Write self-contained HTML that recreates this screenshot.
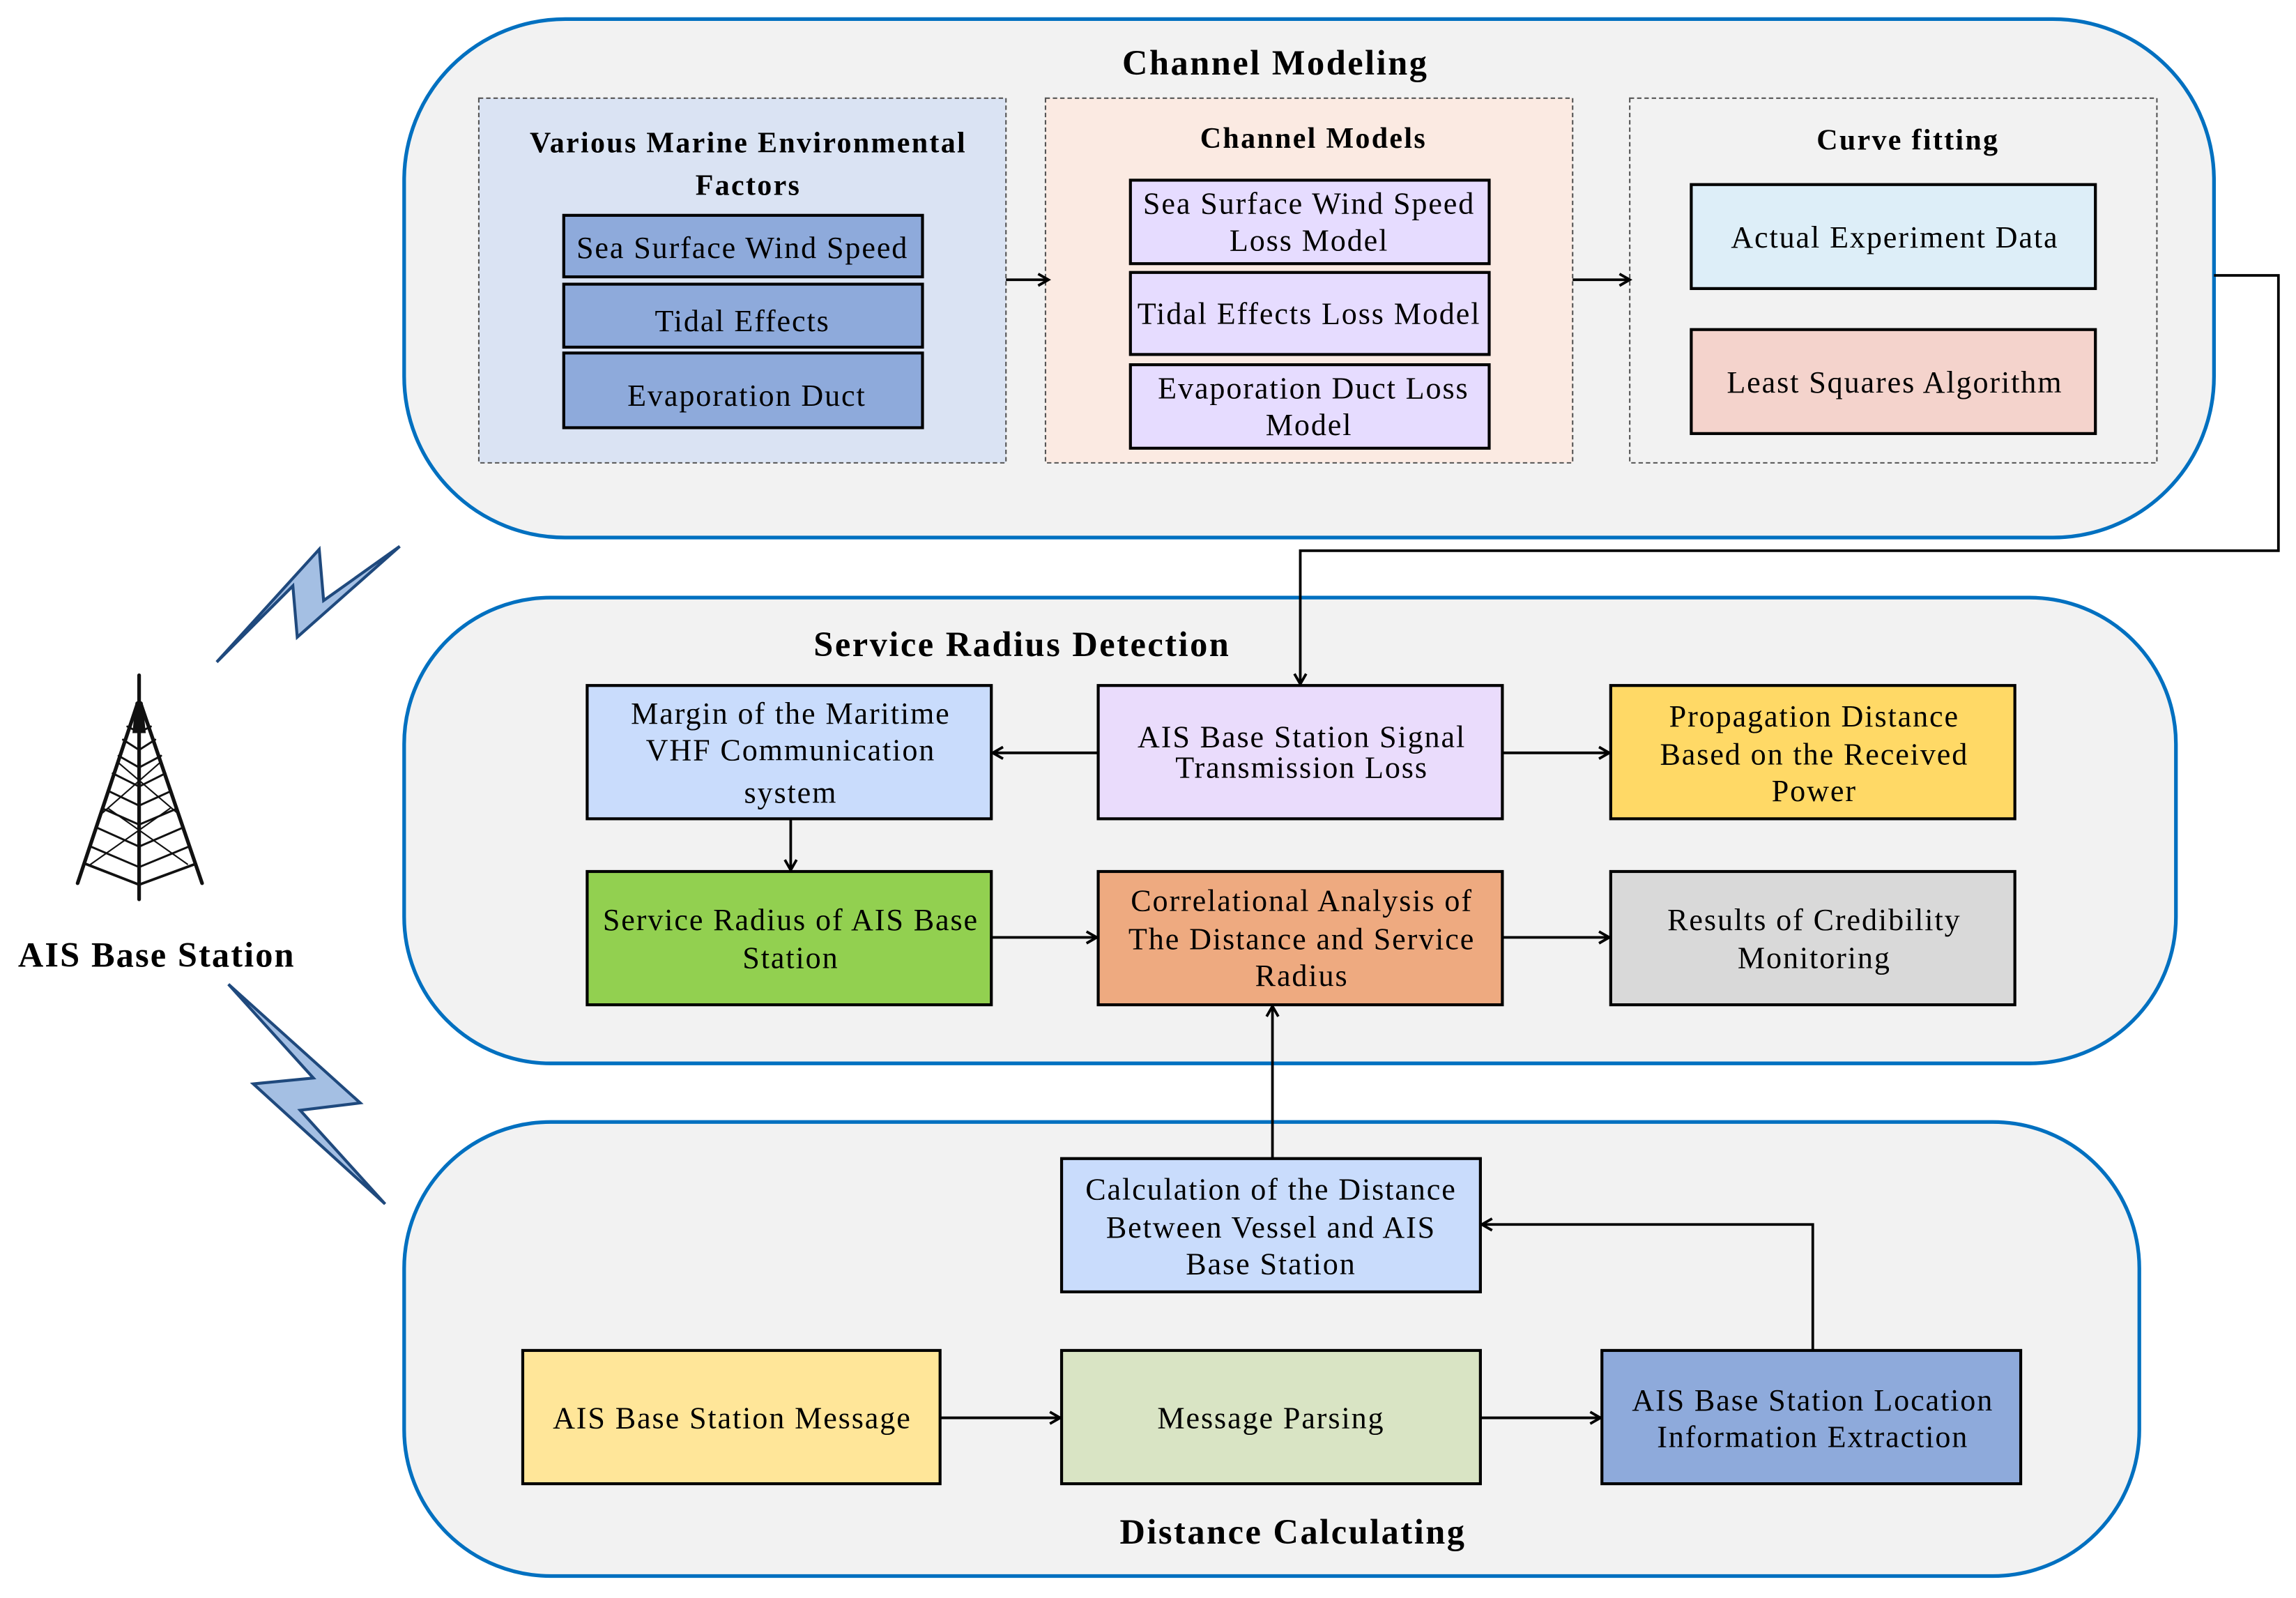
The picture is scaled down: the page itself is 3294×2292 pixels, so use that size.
<!DOCTYPE html>
<html><head><meta charset="utf-8"><style>
html,body{margin:0;padding:0;background:#fff;}
svg{display:block;}
text{font-family:"Liberation Serif",serif;fill:#000;}
.t{font-size:21px;letter-spacing:0.9px;text-anchor:middle;}
.h{font-size:24px;letter-spacing:1.2px;font-weight:bold;text-anchor:middle;}
.h2{font-size:20px;letter-spacing:1.1px;font-weight:bold;text-anchor:middle;}
.b{stroke:#000;stroke-width:2;}
.c{fill:#f2f2f2;stroke:#0070c0;stroke-width:2.5;}
.p{stroke:#555;stroke-width:1;stroke-dasharray:3,2;}
.a{stroke:#000;stroke-width:1.8;fill:none;marker-end:url(#ar);}
</style></head><body>
<svg width="3294" height="2292" viewBox="0 0 1568 1091" xmlns="http://www.w3.org/2000/svg">
<defs><marker id="ar" markerWidth="10" markerHeight="10" refX="8" refY="5" orient="auto" markerUnits="userSpaceOnUse"><path d="M1,1 L8,5 L1,9" fill="none" stroke="#000" stroke-width="1.8"/></marker></defs>

<rect class="c" x="276" y="13" width="1236" height="354" rx="110"/>
<rect class="c" x="276" y="408" width="1210" height="318" rx="100"/>
<rect class="c" x="276" y="766" width="1185" height="310" rx="100"/>

<text class="h" x="871" y="51">Channel Modeling</text>
<rect class="p" x="327" y="67" width="360" height="249" fill="#dae3f3"/>
<rect class="p" x="714" y="67" width="360" height="249" fill="#fbeae2"/>
<rect class="p" x="1113" y="67" width="360" height="249" fill="#f2f2f2"/>
<text class="h2" x="511" y="104">Various Marine Environmental</text>
<text class="h2" x="511" y="133">Factors</text>
<text class="h2" x="897" y="101">Channel Models</text>
<text class="h2" x="1303" y="102">Curve fitting</text>

<rect class="b" x="385" y="147" width="245" height="42" fill="#8eaadb"/>
<rect class="b" x="385" y="194" width="245" height="43" fill="#8eaadb"/>
<rect class="b" x="385" y="241" width="245" height="51" fill="#8eaadb"/>
<text class="t" x="507" y="176">Sea Surface Wind Speed</text>
<text class="t" x="507" y="226">Tidal Effects</text>
<text class="t" x="510" y="277">Evaporation Duct</text>

<rect class="b" x="772" y="123" width="245" height="57" fill="#e6dcff"/>
<rect class="b" x="772" y="186" width="245" height="56" fill="#e6dcff"/>
<rect class="b" x="772" y="249" width="245" height="57" fill="#e6dcff"/>
<text class="t" x="894" y="146">Sea Surface Wind Speed</text>
<text class="t" x="894" y="171">Loss Model</text>
<text class="t" x="894" y="221">Tidal Effects Loss Model</text>
<text class="t" x="897" y="272">Evaporation Duct Loss</text>
<text class="t" x="894" y="297">Model</text>

<rect class="b" x="1155" y="126" width="276" height="71" fill="#ddeef8"/>
<rect class="b" x="1155" y="225" width="276" height="71" fill="#f4d3cc"/>
<text class="t" x="1294" y="169">Actual Experiment Data</text>
<text class="t" x="1294" y="268">Least Squares Algorithm</text>

<line class="a" x1="687" y1="191" x2="716" y2="191"/>
<line class="a" x1="1074" y1="191" x2="1113" y2="191"/>
<polyline class="a" points="1512,188 1556,188 1556,376 888,376 888,467"/>

<text class="h" x="698" y="448">Service Radius Detection</text>
<rect class="b" x="401" y="468" width="276" height="91" fill="#c9dcfc"/>
<rect class="b" x="750" y="468" width="276" height="91" fill="#eadcfc"/>
<rect class="b" x="1100" y="468" width="276" height="91" fill="#ffd966"/>
<rect class="b" x="401" y="595" width="276" height="91" fill="#92d050"/>
<rect class="b" x="750" y="595" width="276" height="91" fill="#eeaa80"/>
<rect class="b" x="1100" y="595" width="276" height="91" fill="#d9d9d9"/>
<text class="t" x="540" y="494">Margin of the Maritime</text>
<text class="t" x="540" y="519">VHF Communication</text>
<text class="t" x="540" y="548">system</text>
<text class="t" x="889" y="510">AIS Base Station Signal</text>
<text class="t" x="889" y="531">Transmission Loss</text>
<text class="t" x="1239" y="496">Propagation Distance</text>
<text class="t" x="1239" y="522">Based on the Received</text>
<text class="t" x="1239" y="547">Power</text>
<text class="t" x="540" y="635">Service Radius of AIS Base</text>
<text class="t" x="540" y="661">Station</text>
<text class="t" x="889" y="622">Correlational Analysis of</text>
<text class="t" x="889" y="648">The Distance and Service</text>
<text class="t" x="889" y="673">Radius</text>
<text class="t" x="1239" y="635">Results of Credibility</text>
<text class="t" x="1239" y="661">Monitoring</text>
<line class="a" x1="750" y1="514" x2="678" y2="514"/>
<line class="a" x1="1026" y1="514" x2="1099" y2="514"/>
<line class="a" x1="540" y1="559" x2="540" y2="594"/>
<line class="a" x1="677" y1="640" x2="749" y2="640"/>
<line class="a" x1="1026" y1="640" x2="1099" y2="640"/>

<text class="h" x="883" y="1054">Distance Calculating</text>
<rect class="b" x="725" y="791" width="286" height="91" fill="#c9dcfc"/>
<rect class="b" x="357" y="922" width="285" height="91" fill="#ffe699"/>
<rect class="b" x="725" y="922" width="286" height="91" fill="#d9e4c4"/>
<rect class="b" x="1094" y="922" width="286" height="91" fill="#8eaadb"/>
<text class="t" x="868" y="819">Calculation of the Distance</text>
<text class="t" x="868" y="845">Between Vessel and AIS</text>
<text class="t" x="868" y="870">Base Station</text>
<text class="t" x="500" y="975">AIS Base Station Message</text>
<text class="t" x="868" y="975">Message Parsing</text>
<text class="t" x="1238" y="963">AIS Base Station Location</text>
<text class="t" x="1238" y="988">Information Extraction</text>
<line class="a" x1="869" y1="791" x2="869" y2="687"/>
<line class="a" x1="642" y1="968" x2="724" y2="968"/>
<line class="a" x1="1011" y1="968" x2="1093" y2="968"/>
<polyline class="a" points="1238,922 1238,836 1012,836"/>

<polygon points="148,452 218,375 221,410 273,373 203,435 200,400" fill="#a4bfe3" stroke="#1f497d" stroke-width="2"/>
<polygon points="156,672 246,753 205,758 263,822 173,740 214,736" fill="#a4bfe3" stroke="#1f497d" stroke-width="2"/>

<g stroke="#111" fill="none" stroke-linecap="round">
<line x1="95" y1="461" x2="95" y2="614" stroke-width="2.5"/>
<line x1="94" y1="480" x2="53" y2="603" stroke-width="2.5"/>
<line x1="96" y1="480" x2="138" y2="603" stroke-width="2.5"/>
<path d="M59,590 L95,604 L133,590" stroke-width="1.8"/>
<path d="M62,578 L95,592 L129,578 M66,565 L95,578 L125,565 M70,552 L95,563 L121,552 M74,540 L95,550 L117,540 M77,528 L95,537 L113,528 M81,516 L95,524 L110,516 M84,505 L95,512 L106,505 M87,496 L95,500 L103,496" stroke-width="1.4"/>
<path d="M62,590 L116,552 M128,590 L74,552 M70,555 L110,520 M121,555 L80,520" stroke-width="1"/>
<path d="M93,480 L97,480 L99,500 L91,500 Z" fill="#111" stroke-width="1"/>
</g>
<text x="107" y="660" style="font-size:24px;letter-spacing:1px;font-weight:bold;text-anchor:middle;">AIS Base Station</text>
</svg>
</body></html>
